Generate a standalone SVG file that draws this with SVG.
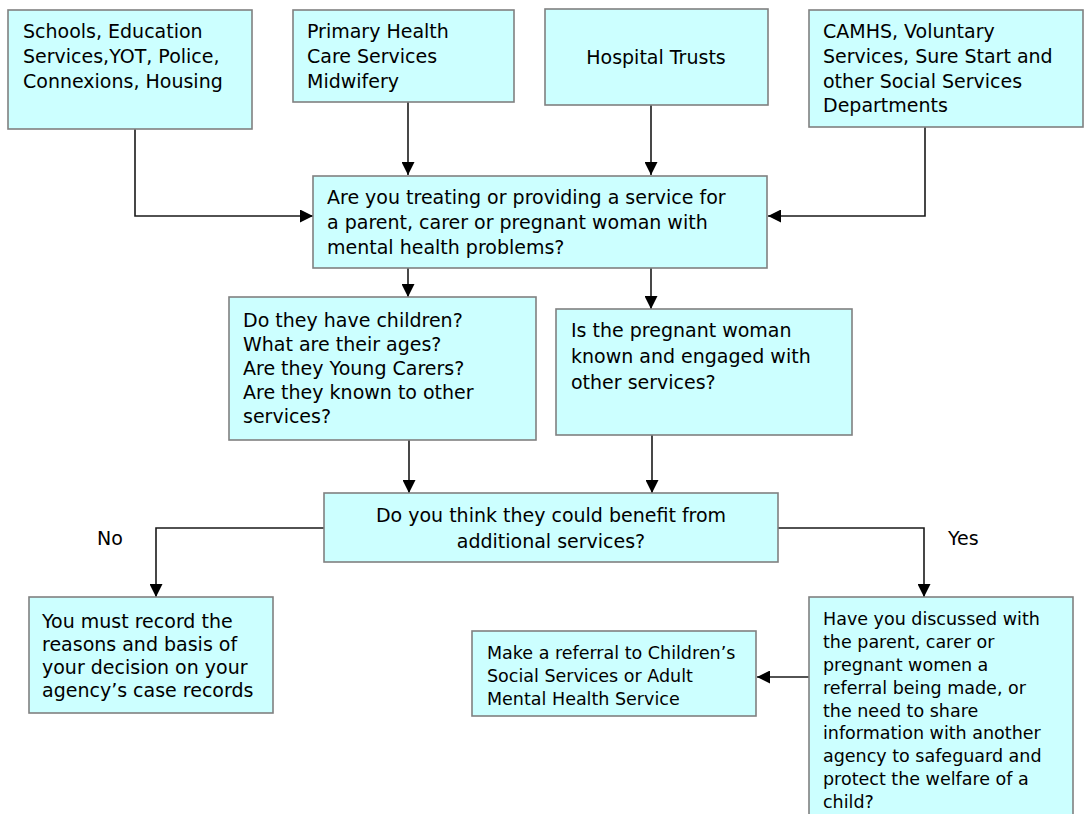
<svg xmlns="http://www.w3.org/2000/svg" width="1085" height="814" viewBox="0 0 1085 814">
<defs>
<marker id="ah" viewBox="0 0 13 13" refX="13" refY="6.5" markerWidth="13" markerHeight="13" markerUnits="userSpaceOnUse" orient="auto">
<path d="M0,0 L13,6.5 L0,13 z" fill="#000"/>
</marker>
<style>
.box{fill:#ccffff;stroke:#808080;stroke-width:1.6}
text{font-family:"DejaVu Sans",Verdana,sans-serif;font-size:19px;fill:#000}
.s{font-size:17.5px}
.c{text-anchor:middle}
.ln{fill:none;stroke:#1a1a1a;stroke-width:1.6}
</style>
</defs>
<rect width="1085" height="814" fill="#fff"/>
<g id="connectors">
<path class="ln" d="M135,129 V216 H313" marker-end="url(#ah)"/>
<path class="ln" d="M408,102 V175" marker-end="url(#ah)"/>
<path class="ln" d="M651,105 V175" marker-end="url(#ah)"/>
<path class="ln" d="M925,127 V216 H768" marker-end="url(#ah)"/>
<path class="ln" d="M408,268 V297" marker-end="url(#ah)"/>
<path class="ln" d="M651,268 V309" marker-end="url(#ah)"/>
<path class="ln" d="M409,440 V493" marker-end="url(#ah)"/>
<path class="ln" d="M652,435 V493" marker-end="url(#ah)"/>
<path class="ln" d="M324,528 H156 V597" marker-end="url(#ah)"/>
<path class="ln" d="M778,528 H924 V597" marker-end="url(#ah)"/>
<path class="ln" d="M809,677 H757" marker-end="url(#ah)"/>
</g>
<g id="n1"><rect class="box" x="8" y="10" width="244" height="119"/>
<text x="23" y="38">Schools, Education</text><text x="23" y="63">Services,YOT, Police,</text><text x="23" y="88">Connexions, Housing</text></g>
<g id="n2"><rect class="box" x="293" y="10" width="221" height="92"/>
<text x="307" y="38">Primary Health</text><text x="307" y="63">Care Services</text><text x="307" y="88">Midwifery</text></g>
<g id="n3"><rect class="box" x="545" y="9" width="223" height="96"/>
<text class="c" x="656" y="64">Hospital Trusts</text></g>
<g id="n4"><rect class="box" x="809" y="10" width="274" height="117"/>
<text x="823" y="38">CAMHS, Voluntary</text><text x="823" y="63">Services, Sure Start and</text><text x="823" y="88">other Social Services</text><text x="823" y="112">Departments</text></g>
<g id="q1"><rect class="box" x="313" y="176" width="454" height="92"/>
<text x="327" y="204">Are you treating or providing a service for</text><text x="327" y="229">a parent, carer or pregnant woman with</text><text x="327" y="254">mental health problems?</text></g>
<g id="q2"><rect class="box" x="229" y="297" width="307" height="143"/>
<text x="243" y="327">Do they have children?</text><text x="243" y="351">What are their ages?</text><text x="243" y="375">Are they Young Carers?</text><text x="243" y="399">Are they known to other</text><text x="243" y="423">services?</text></g>
<g id="q3"><rect class="box" x="556" y="309" width="296" height="126"/>
<text x="571" y="337">Is the pregnant woman</text><text x="571" y="363">known and engaged with</text><text x="571" y="389">other services?</text></g>
<g id="q4"><rect class="box" x="324" y="493" width="454" height="69"/>
<text class="c" x="551" y="522">Do you think they could benefit from</text><text class="c" x="551" y="548">additional services?</text></g>
<g id="lno"><text x="97" y="545">No</text></g>
<g id="lyes"><text x="948" y="545">Yes</text></g>
<g id="n5"><rect class="box" x="29" y="597" width="244" height="116"/>
<text x="42" y="628">You must record the</text><text x="42" y="651">reasons and basis of</text><text x="42" y="674">your decision on your</text><text x="42" y="697">agency’s case records</text></g>
<g id="n6"><rect class="box" x="472" y="631" width="284" height="85"/>
<text class="s" x="487" y="659">Make a referral to Children’s</text><text class="s" x="487" y="682">Social Services or Adult</text><text class="s" x="487" y="705">Mental Health Service</text></g>
<g id="n7"><rect class="box" x="809" y="597" width="264" height="222"/>
<text class="s" x="823" y="625">Have you discussed with</text><text class="s" x="823" y="648">the parent, carer or</text><text class="s" x="823" y="671">pregnant women a</text><text class="s" x="823" y="694">referral being made, or</text><text class="s" x="823" y="717">the need to share</text><text class="s" x="823" y="739">information with another</text><text class="s" x="823" y="762">agency to safeguard and</text><text class="s" x="823" y="785">protect the welfare of a</text><text class="s" x="823" y="808">child?</text></g>
</svg>
